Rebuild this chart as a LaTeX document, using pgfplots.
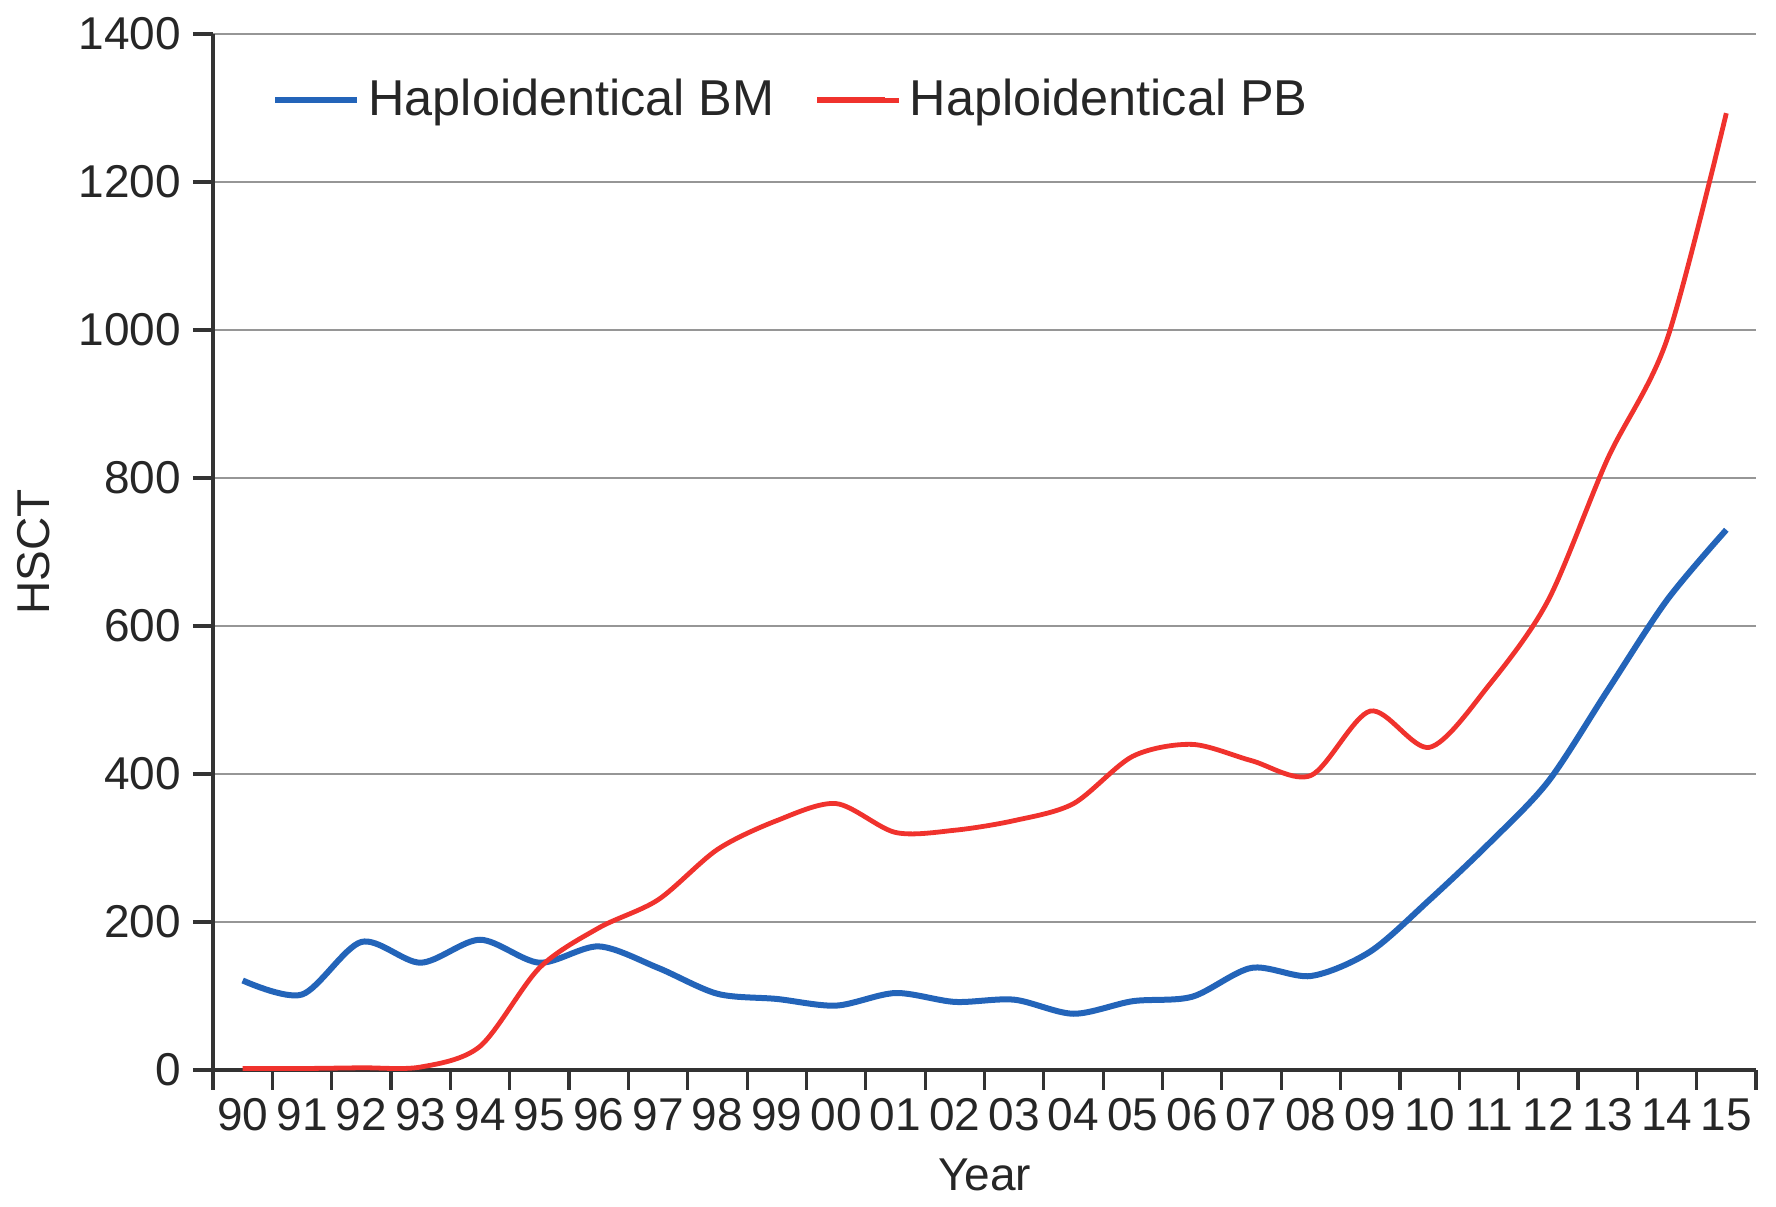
\documentclass[border=0pt]{standalone}
\usepackage{fontspec}
\setmainfont{Liberation Sans}
\usepackage{pgfplots}
\pgfplotsset{compat=1.18}
\definecolor{bmblue}{RGB}{35,100,185}
\definecolor{pbred}{RGB}{240,50,45}
\definecolor{gridgray}{RGB}{150,150,150}
\begin{document}
\begin{tikzpicture}
\begin{axis}[
  at={(0,0)}, anchor=south west,
  scale only axis, width=385.75pt, height=259pt,
  xmin=-0.5, xmax=25.5, ymin=0, ymax=1400,
  axis lines=left,
  axis line style={-, black!80, line width=0.9pt},
  xtick={0,...,25},
  xticklabels={90,91,92,93,94,95,96,97,98,99,00,01,02,03,04,05,06,07,08,09,10,11,12,13,14,15},
  major x tick style={draw=none},
  minor xtick={-0.5,0.5,...,25.5},
  minor tick length=5pt,
  minor x tick style={black!80, line width=0.8pt},
  ytick={0,200,...,1400},
  major tick length=5pt,
  y tick style={black!80, line width=0.8pt},
  tick align=outside,
  ymajorgrids,
  grid style={gridgray, line width=0.7pt},
  /pgf/number format/assume math mode=true,
  /pgf/number format/1000 sep={},
  tick label style={font=\fontsize{11.5}{13}\selectfont, text=black!85},
  yticklabel style={inner xsep=2.8pt},
  xticklabel style={inner xsep=0pt, yshift=1.4pt},
  xlabel={Year},
  ylabel={HSCT},
  label style={font=\fontsize{11.5}{13}\selectfont, text=black!85},
  xlabel style={at={(axis description cs:0.5,-0.1014)}, anchor=center},
  ylabel style={at={(axis description cs:-0.0963,0.5)}, anchor=south},
  legend columns=2,
  legend style={at={(axis description cs:0.038,0.936)}, anchor=west, draw=none, fill=none,
    inner sep=0pt, font=\fontsize{12.6}{14}\selectfont, text=black!85,
    /tikz/every even column/.append style={column sep=8pt}},
  legend image code/.code={\draw[#1, line width=1.4pt] (0pt,0pt) -- (17pt,0pt); \path (0pt,0pt) -- (20.5pt,0pt);},
  clip=false,
]
\addplot[bmblue, line width=1.5pt, smooth, tension=0.5] coordinates {
 (0,121) (1,102) (2,173) (3,145) (4,176) (5,145) (6,167) (7,138) (8,103) (9,96)
 (10,87) (11,104) (12,92) (13,95) (14,76) (15,93) (16,99) (17,138) (18,127) (19,160)
 (20,230) (21,306) (22,390) (23,513) (24,635) (25,730)
};
\addlegendentry{Haploidentical BM}
\addplot[pbred, line width=1.2pt, smooth, tension=0.5] coordinates {
 (0,2) (1,2) (2,3) (3,4) (4,32) (5,138) (6,192) (7,230) (8,298) (9,337)
 (10,360) (11,321) (12,324) (13,337) (14,360) (15,424) (16,440) (17,418) (18,398) (19,485)
 (20,436) (21,520) (22,635) (23,826) (24,987) (25,1293)
};
\addlegendentry{Haploidentical PB}
\end{axis}
\pgfresetboundingbox
\path[use as bounding box] (-53.25pt,-34.25pt) rectangle (390.75pt,267.5pt);
\end{tikzpicture}
\end{document}
